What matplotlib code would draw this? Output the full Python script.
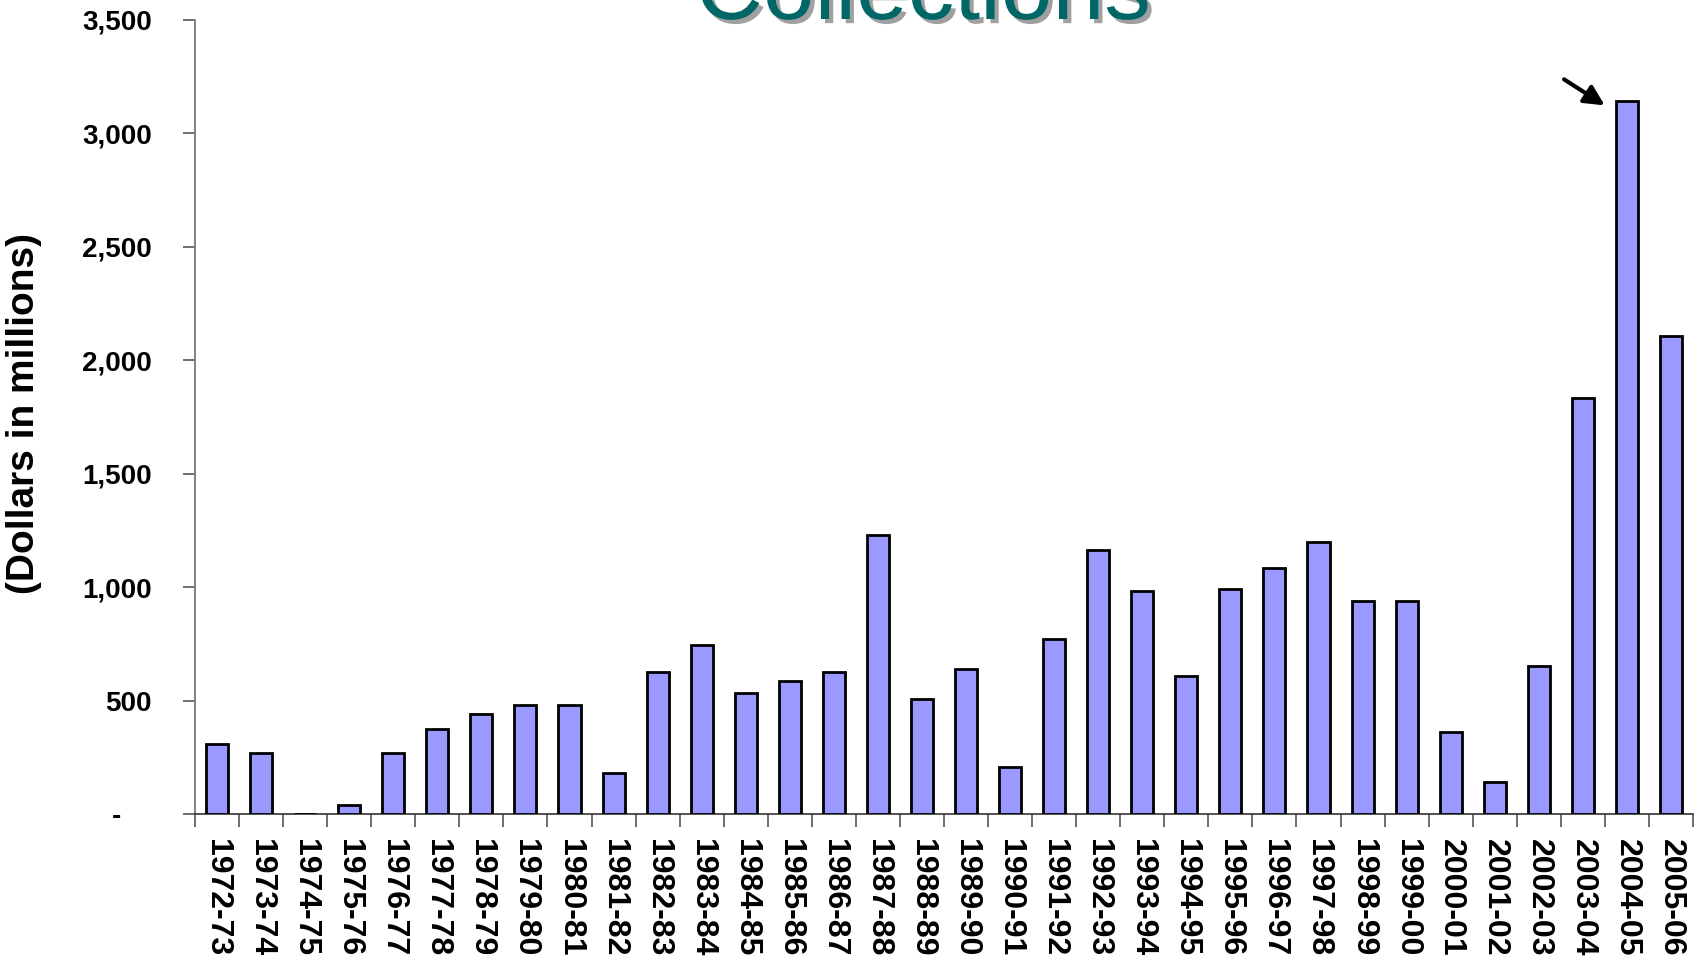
import matplotlib
matplotlib.use('Agg')
import matplotlib.pyplot as plt
import matplotlib.patheffects as pe
import numpy as np

plt.rcParams['font.family'] = ['Liberation Sans', 'DejaVu Sans']

# Fiscal years and collections (dollars in millions)
years = ['1972-73', '1973-74', '1974-75', '1975-76', '1976-77', '1977-78',
         '1978-79', '1979-80', '1980-81', '1981-82', '1982-83', '1983-84',
         '1984-85', '1985-86', '1986-87', '1987-88', '1988-89', '1989-90',
         '1990-91', '1991-92', '1992-93', '1993-94', '1994-95', '1995-96',
         '1996-97', '1997-98', '1998-99', '1999-00', '2000-01', '2001-02',
         '2002-03', '2003-04', '2004-05', '2005-06']
collections = [310, 271, 0, 38, 271, 376, 443, 481, 481, 181, 624, 743,
               533, 586, 624, 1229, 505, 638, 205, 771, 1162, 981, 610, 990,
               1086, 1200, 938, 938, 362, 143, 652, 1833, 3143, 2105]
y_ticks = [0, 500, 1000, 1500, 2000, 2500, 3000, 3500]
y_tick_labels = ['-    ', '500', '1,000', '1,500', '2,000', '2,500', '3,000', '3,500']

fig = plt.figure(figsize=(16.94, 9.59), dpi=100)
ax = fig.add_axes([195 / 1694, 1 - 814 / 959, 1498 / 1694, 794 / 959])

x = np.arange(len(years))
ax.bar(x, collections, width=0.5, color='#9999FF', edgecolor='black', linewidth=2.0, zorder=3)

ax.set_xlim(-0.5, len(years) - 0.5)
ax.set_ylim(0, 3500)

# category labels in the middle, tick marks between categories
ax.set_xticks(x)
ax.set_xticklabels(years, rotation=270, fontsize=23, fontweight='bold', va='top', ha='center')
ax.set_xticks(np.arange(len(years) + 1) - 0.5, minor=True)
ax.tick_params(axis='x', which='major', length=0, pad=18)
ax.tick_params(axis='x', which='minor', length=9, width=1.2, color='#555555', direction='out')

ax.set_yticks(y_ticks)
ax.set_yticklabels(y_tick_labels, fontsize=20, fontweight='bold')
ax.tick_params(axis='y', length=9, width=1.2, color='#555555', direction='out', pad=22)

for side in ['top', 'right']:
    ax.spines[side].set_visible(False)
ax.spines['left'].set_color('#808080')
ax.spines['left'].set_linewidth(1.4)
ax.spines['bottom'].set_color('#333333')
ax.spines['bottom'].set_linewidth(1.2)

# arrow pointing at the 2004-05 peak
ax.annotate('', xy=(31.55, 3117), xytext=(30.52, 3245),
            arrowprops=dict(arrowstyle='-|>', color='black', lw=3, mutation_scale=30))

fig.text(24 / 1694, 1 - 414 / 959, '(Dollars in millions)', rotation=90,
         fontsize=28, fontweight='bold', ha='center', va='center')

fig.text(923 / 1694, 1 - 19 / 959, 'Collections', fontsize=67, color='#006666',
         ha='center', va='baseline',
         path_effects=[pe.withSimplePatchShadow(offset=(3, -3), shadow_rgbFace='#a0a0a0', alpha=1.0)])

fig.savefig('out.png', dpi=100)
